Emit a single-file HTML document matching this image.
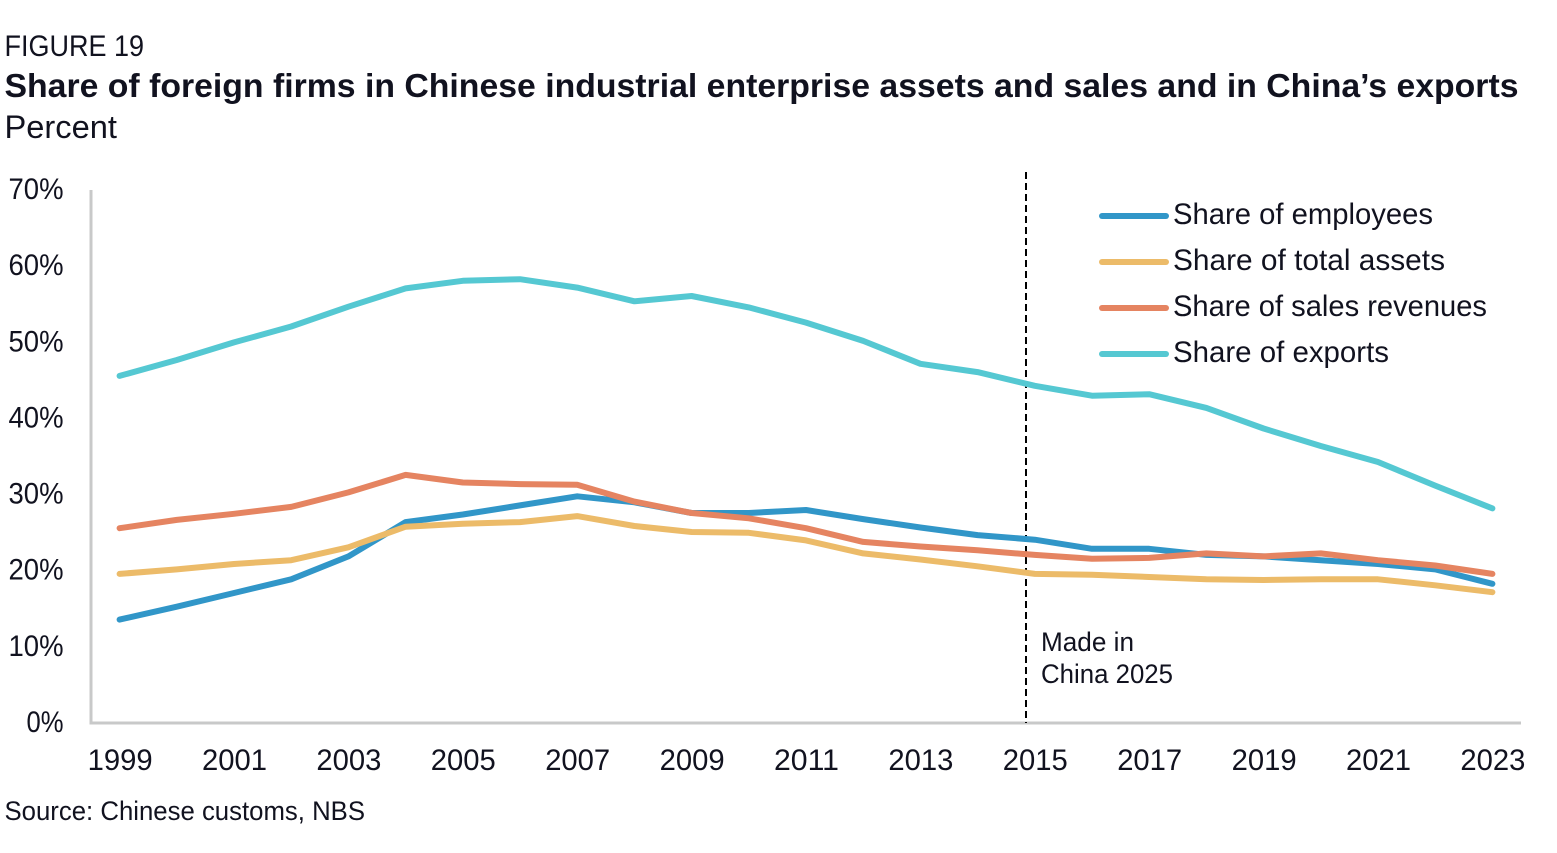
<!DOCTYPE html>
<html lang="en">
<head>
<meta charset="utf-8">
<title>Share of foreign firms</title>
<style>
html,body{margin:0;padding:0;background:#fff;}
svg{display:block;}
text{font-family:"Liberation Sans",sans-serif;fill:#11121f;}
</style>
</head>
<body>
<svg id="chart" xmlns="http://www.w3.org/2000/svg" width="1557" height="853" viewBox="0 0 1557 853">
  <text x="4.5" y="56" font-size="29.5" textLength="139.5" lengthAdjust="spacingAndGlyphs">FIGURE 19</text>
  <text x="4.5" y="97" font-size="33.5" font-weight="700" textLength="1514" lengthAdjust="spacingAndGlyphs">Share of foreign firms in Chinese industrial enterprise assets and sales and in China’s exports</text>
  <text x="4.5" y="138" font-size="32" textLength="112.5" lengthAdjust="spacingAndGlyphs">Percent</text>
  <g id="axes"></g>
  <g id="xlabels"></g>
  <g id="ylabels"></g>
  <line x1="1026" y1="172" x2="1026" y2="723" stroke="#000" stroke-width="2" stroke-dasharray="7 4"></line>
  <g id="series"></g>
  <text x="1041" y="651" font-size="26.5" textLength="93" lengthAdjust="spacingAndGlyphs">Made in</text>
  <text x="1041" y="683" font-size="26.5" textLength="132" lengthAdjust="spacingAndGlyphs">China 2025</text>
  <g>
    <line x1="1102" y1="216" x2="1166" y2="216" stroke="#3196c8" stroke-width="6" stroke-linecap="round"></line>
    <text x="1173" y="224" font-size="30" textLength="260" lengthAdjust="spacingAndGlyphs">Share of employees</text>
    <line x1="1102" y1="262" x2="1166" y2="262" stroke="#ecbb69" stroke-width="6" stroke-linecap="round"></line>
    <text x="1173" y="270" font-size="30" textLength="272" lengthAdjust="spacingAndGlyphs">Share of total assets</text>
    <line x1="1102" y1="308" x2="1166" y2="308" stroke="#e58461" stroke-width="6" stroke-linecap="round"></line>
    <text x="1173" y="316" font-size="30" textLength="314" lengthAdjust="spacingAndGlyphs">Share of sales revenues</text>
    <line x1="1102" y1="354" x2="1166" y2="354" stroke="#55c8d2" stroke-width="6" stroke-linecap="round"></line>
    <text x="1173" y="362" font-size="30" textLength="216" lengthAdjust="spacingAndGlyphs">Share of exports</text>
  </g>
  <text x="4.5" y="820" font-size="26.5" textLength="360.5" lengthAdjust="spacingAndGlyphs">Source: Chinese customs, NBS</text>
</svg>
<script>
const years = [1999,2000,2001,2002,2003,2004,2005,2006,2007,2008,2009,2010,2011,2012,2013,2014,2015,2016,2017,2018,2019,2020,2021,2022,2023];
const yTicks = [0,10,20,30,40,50,60,70];
const xTicks = [1999,2001,2003,2005,2007,2009,2011,2013,2015,2017,2019,2021,2023];
const employees = [13.5,15.2,17.0,18.8,21.8,26.3,27.3,28.5,29.7,28.9,27.5,27.5,27.9,26.7,25.6,24.6,24.0,22.8,22.8,22.0,21.8,21.3,20.8,20.1,18.2];
const assets = [19.5,20.1,20.8,21.3,23.0,25.7,26.1,26.3,27.1,25.8,25.0,24.9,23.9,22.2,21.4,20.5,19.5,19.4,19.1,18.8,18.7,18.8,18.8,18.0,17.1];
const sales = [25.5,26.6,27.4,28.3,30.2,32.5,31.5,31.3,31.2,29.0,27.5,26.8,25.5,23.7,23.1,22.6,22.0,21.5,21.6,22.2,21.8,22.2,21.3,20.6,19.5];
const exportsShare = [45.5,47.6,49.9,52.0,54.6,57.0,58.0,58.2,57.1,55.3,56.0,54.5,52.5,50.1,47.1,46.0,44.2,42.9,43.1,41.3,38.6,36.3,34.2,31.1,28.1];

const NS = 'http://www.w3.org/2000/svg';
const left = 91, right = 1521, bottom = 723, top70 = 190;
const band = (right - left) / years.length;
function xScale(year) { return left + band * (year - years[0] + 0.5); }
function yScale(v) { return bottom - (bottom - top70) * v / 70; }

const axes = document.getElementById('axes');
const yAxis = document.createElementNS(NS, 'line');


yAxis.setAttribute('x1', left); yAxis.setAttribute('x2', left);
yAxis.setAttribute('y1', top70); yAxis.setAttribute('y2', bottom + 1.5);
yAxis.setAttribute('stroke', '#c8c9c9'); yAxis.setAttribute('stroke-width', 3);
axes.appendChild(yAxis);
const xAxis = document.createElementNS(NS, 'line');


xAxis.setAttribute('x1', left - 1.5); xAxis.setAttribute('x2', right);
xAxis.setAttribute('y1', bottom); xAxis.setAttribute('y2', bottom);
xAxis.setAttribute('stroke', '#c8c9c9'); xAxis.setAttribute('stroke-width', 3);
axes.appendChild(xAxis);

const xlabels = document.getElementById('xlabels');
xTicks.forEach(function (t) {
  const el = document.createElementNS(NS, 'text');
  
  
  el.setAttribute('x', xScale(t) + 0.5);
  el.setAttribute('y', 770);
  el.setAttribute('font-size', 30);
  el.setAttribute('text-anchor', 'middle');
  el.setAttribute('textLength', 65);
  el.setAttribute('lengthAdjust', 'spacingAndGlyphs');
  el.textContent = t;
  xlabels.appendChild(el);
});

const ylabels = document.getElementById('ylabels');
yTicks.forEach(function (t) {
  const el = document.createElementNS(NS, 'text');
  
  
  el.setAttribute('x', 63.5);
  el.setAttribute('y', yScale(t) + 9);
  el.setAttribute('font-size', 30);
  el.setAttribute('text-anchor', 'end');
  el.setAttribute('textLength', t === 0 ? 37 : 55);
  el.setAttribute('lengthAdjust', 'spacingAndGlyphs');
  el.textContent = t + '%';
  ylabels.appendChild(el);
});

const seriesGroup = document.getElementById('series');
function drawLine(values, color, name) {
  const p = document.createElementNS(NS, 'polyline');
  
  
  p.setAttribute('fill', 'none');
  p.setAttribute('stroke', color);
  p.setAttribute('stroke-width', 6);
  p.setAttribute('stroke-linecap', 'round');
  p.setAttribute('stroke-linejoin', 'round');
  p.setAttribute('points', values.map(function (v, i) {
    return xScale(years[i]).toFixed(1) + ',' + (yScale(v) - 0.6).toFixed(1);
  }).join(' '));
  seriesGroup.appendChild(p);
}
drawLine(exportsShare, '#55c8d2', 'line-share-of-exports');
drawLine(employees, '#3196c8', 'line-share-of-employees');
drawLine(assets, '#ecbb69', 'line-share-of-total-assets');
drawLine(sales, '#e58461', 'line-share-of-sales-revenues');
</script>
</body>
</html>
